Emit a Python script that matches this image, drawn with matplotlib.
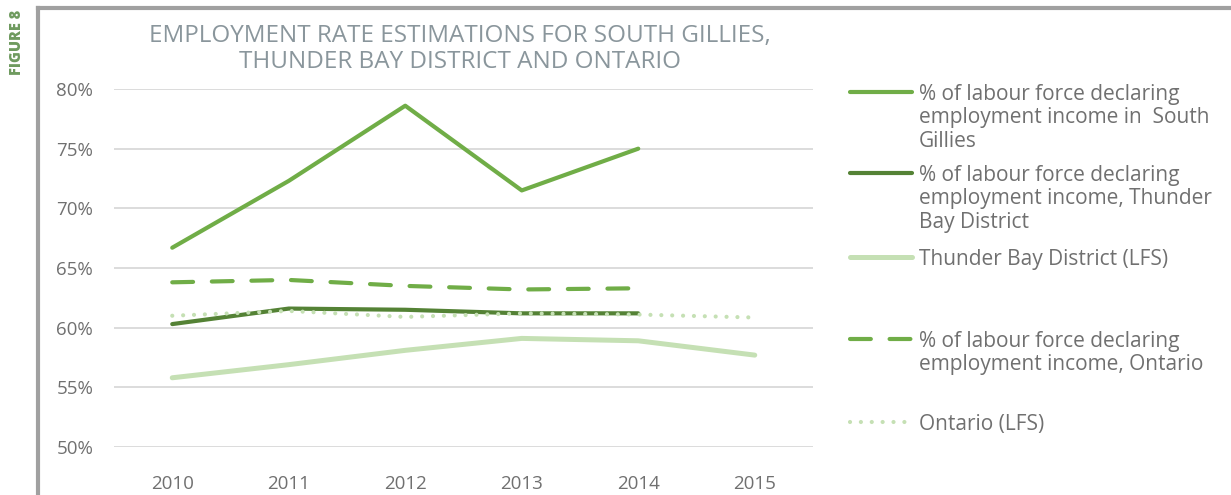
import matplotlib
matplotlib.use('Agg')
import matplotlib.pyplot as plt
from matplotlib.lines import Line2D

years = [2010, 2011, 2012, 2013, 2014, 2015]
south_gillies = [66.7, 72.3, 78.6, 71.5, 75.0, None]
tbd_income = [60.3, 61.6, 61.5, 61.2, 61.2, None]
tbd_lfs = [55.8, 56.9, 58.1, 59.1, 58.9, 57.7]
ontario_income = [63.8, 64.0, 63.5, 63.2, 63.3, None]
ontario_lfs = [61.0, 61.4, 60.9, 61.2, 61.1, 60.85]

labels = [
    "% of labour force declaring\nemployment income in  South\nGillies",
    "% of labour force declaring\nemployment income, Thunder\nBay District",
    "Thunder Bay District (LFS)",
    "% of labour force declaring\nemployment income, Ontario",
    "Ontario (LFS)",
]

plt.rcParams['font.family'] = ['Open Sans', 'DejaVu Sans']

W, H = 1231, 495
fig = plt.figure(figsize=(W / 100, H / 100), dpi=100)
ax = fig.add_axes([114 / W, 1 - 447 / H, (813 - 114) / W, (447 - 89) / H])

x = list(range(len(years)))


def clean(vals):
    xs = [i for i, v in zip(x, vals) if v is not None]
    ys = [v for v in vals if v is not None]
    return xs, ys


green = '#70ad47'
dark = '#548235'
light = '#c5e0b4'

styles = [
    dict(color=green, lw=3.0, ls='-', zorder=5),
    dict(color=dark, lw=3.0, ls='-', zorder=3),
    dict(color=light, lw=3.6, ls='-', zorder=3),
    dict(color=green, lw=3.0, ls=(0, (5, 4.5)), zorder=3),
    dict(color=light, lw=3.0, ls=(0, (0.01, 2.6)), zorder=4),
]
series = [south_gillies, tbd_income, tbd_lfs, ontario_income, ontario_lfs]

for vals, st in zip(series, styles):
    xs, ys = clean(vals)
    ax.plot(xs, ys, solid_capstyle='round', dash_capstyle='round', **st)

ax.set_xlim(-0.5, len(years) - 0.5)
ax.set_ylim(50, 80)
ax.set_yticks(range(50, 81, 5))
ax.set_yticklabels([f"{v}%" for v in range(50, 81, 5)])
ax.set_xticks(x)
ax.set_xticklabels([str(y) for y in years])
ax.grid(axis='y', color='#d9d9d9', lw=1.3)
ax.set_axisbelow(True)
for s in ax.spines.values():
    s.set_visible(False)
ax.tick_params(axis='both', length=0, labelsize=13.5, colors='#707070')
ax.tick_params(axis='y', pad=15)
ax.tick_params(axis='x', pad=20)

# title
fig.text(460 / W, 1 - 49 / H,
         "EMPLOYMENT RATE ESTIMATIONS FOR SOUTH GILLIES,\nTHUNDER BAY DISTRICT AND ONTARIO",
         ha='center', va='center', fontsize=17.5, color='#8a969c',
         linespacing=1.15)

# frame lines
fig.add_artist(Line2D([38 / W, 1], [1 - 8 / H, 1 - 8 / H], color='#a0a0a0', lw=3,
                      transform=fig.transFigure))
fig.add_artist(Line2D([38 / W, 38 / W], [0, 1 - 8 / H], color='#a0a0a0', lw=3,
                      transform=fig.transFigure))

fig.text(17 / W, 1 - 42 / H, "FIGURE 8", rotation=90, ha='center', va='center',
         fontsize=10.5, fontweight='heavy', color='#6e9a5e')

# legend
legend_y = [92, 173, 257, 339, 422]
for lab, st, yy in zip(labels, styles, legend_y):
    yf = 1 - yy / H
    kw = dict(st)
    kw.pop('zorder')
    fig.add_artist(Line2D([850 / W, 912 / W], [yf, yf], transform=fig.transFigure,
                          solid_capstyle='round', dash_capstyle='round', **kw))
    fig.text(919 / W, yf + 8 / H, lab, ha='left', va='top', fontsize=15,
             color='#707070', linespacing=1.15)

fig.savefig('out.png', dpi=100)
